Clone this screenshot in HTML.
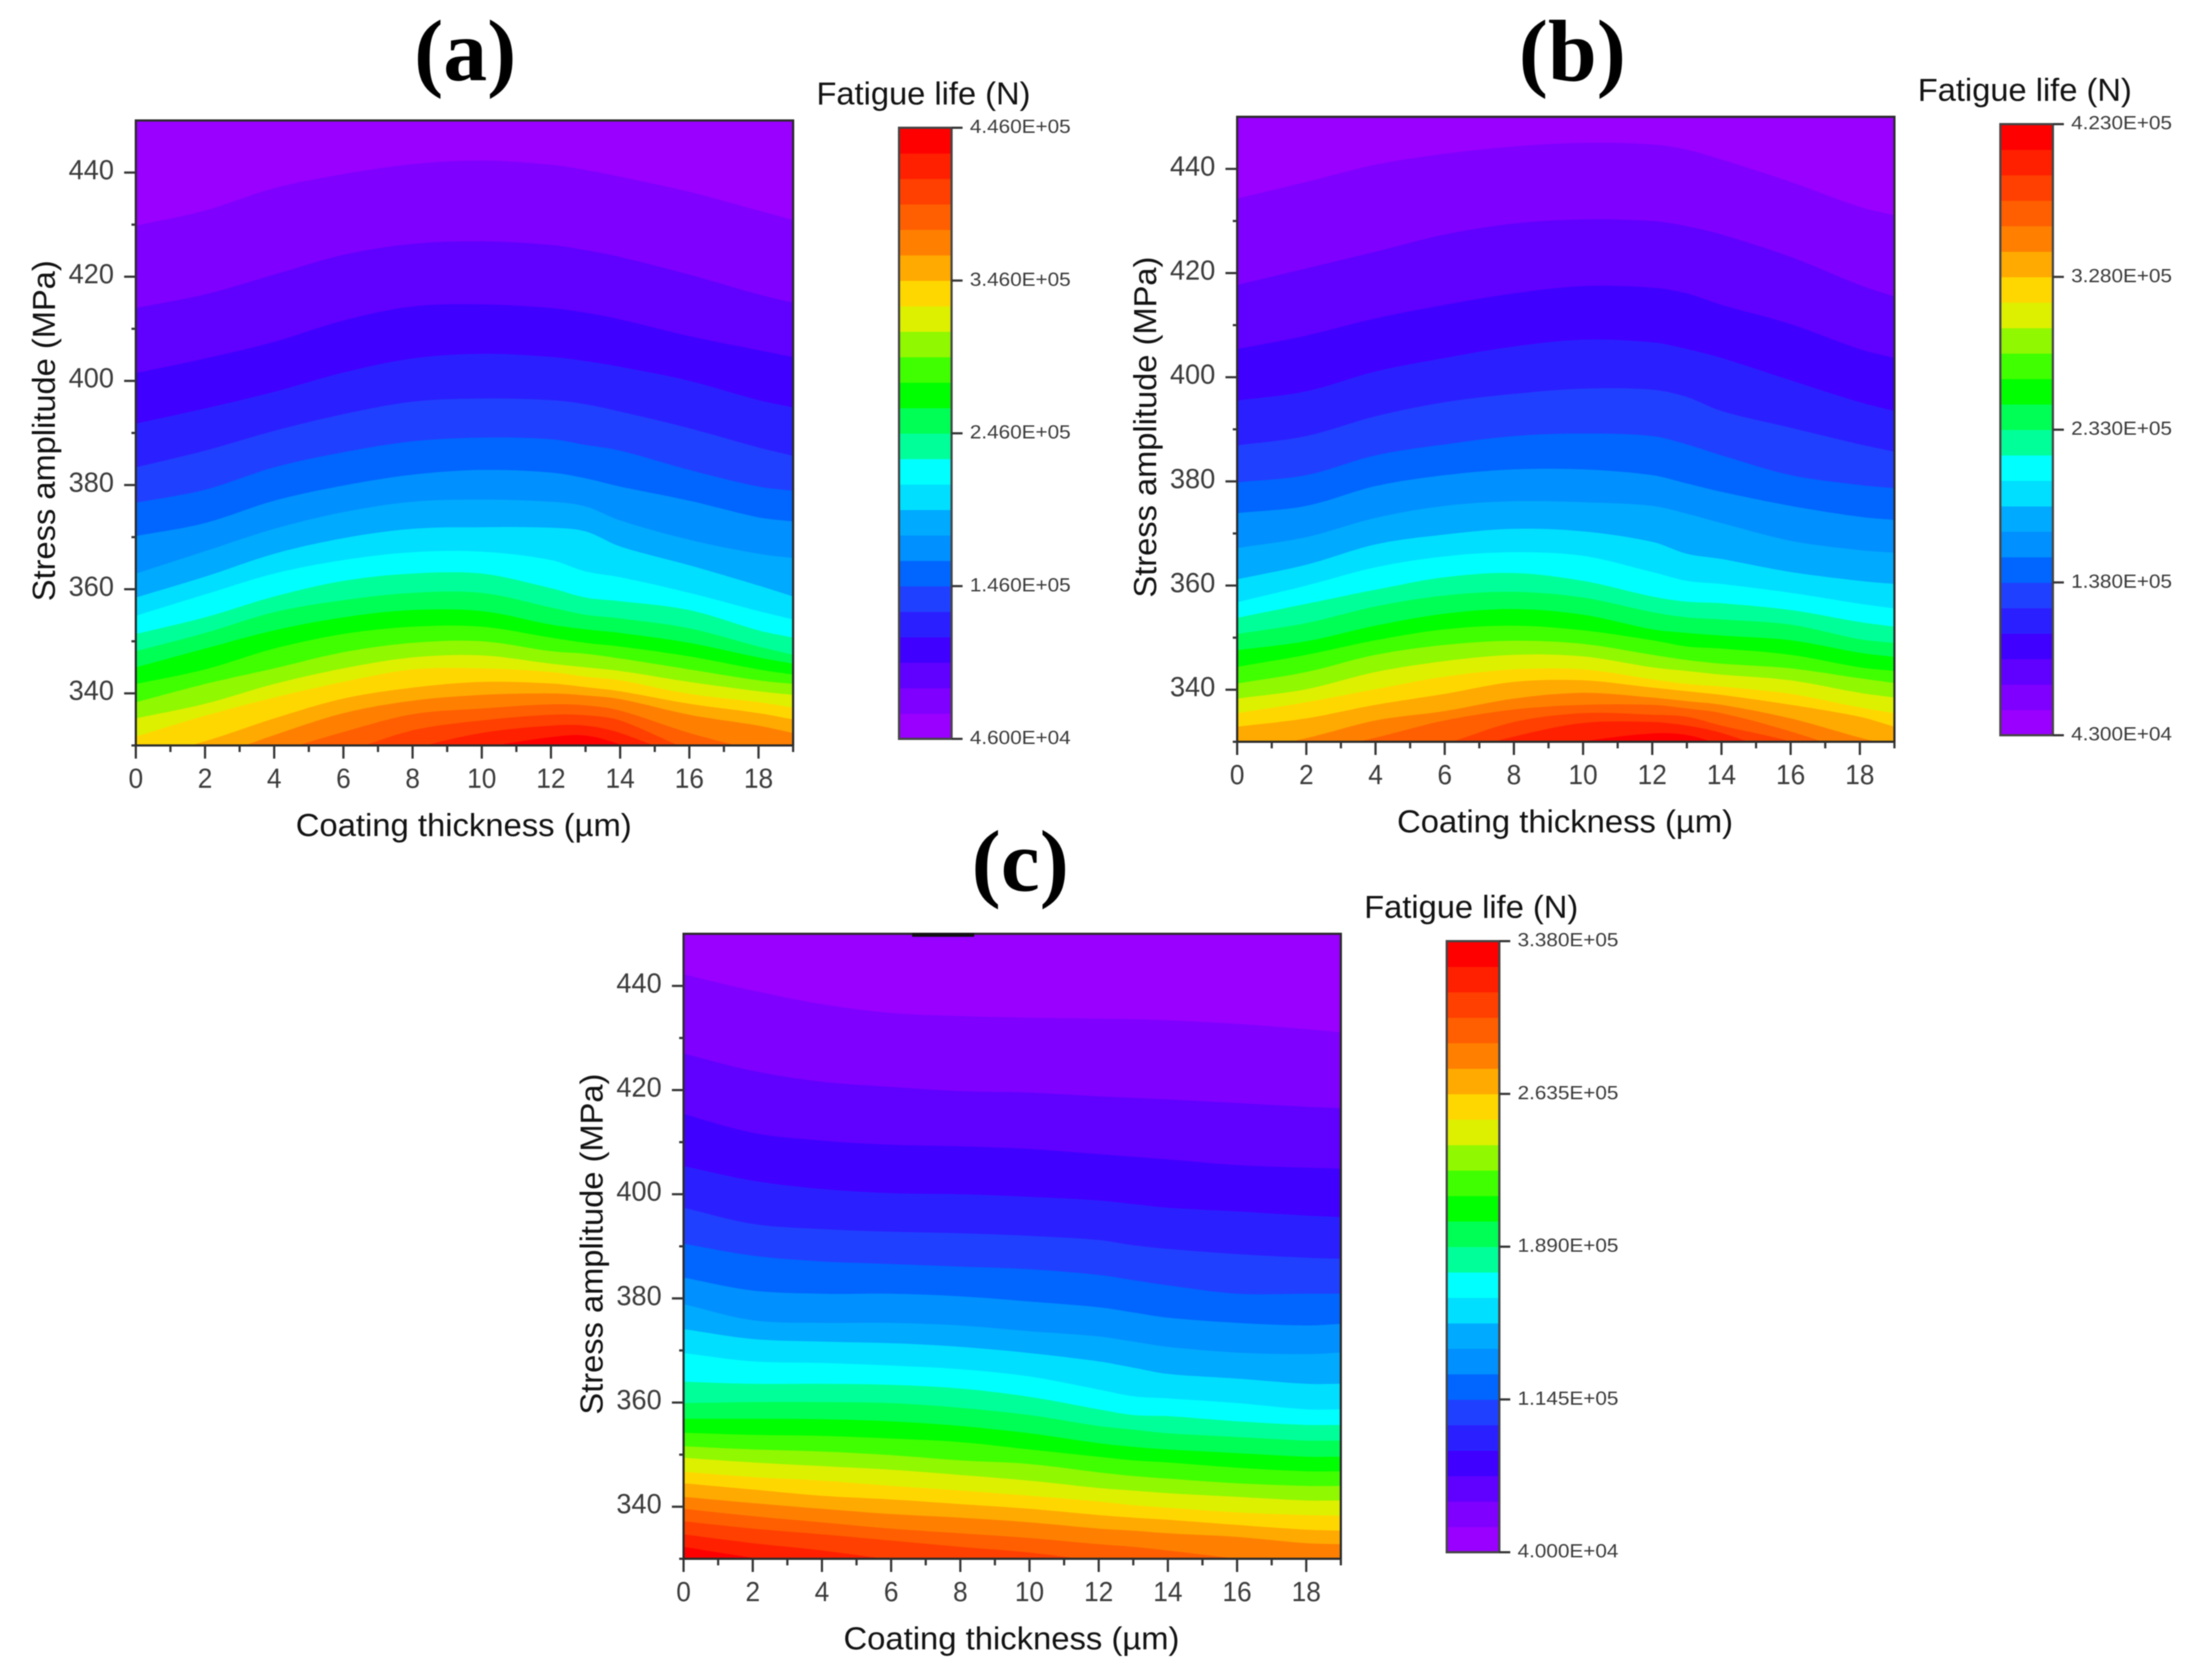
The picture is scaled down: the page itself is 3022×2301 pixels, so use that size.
<!DOCTYPE html>
<html lang="en">
<head>
<meta charset="utf-8">
<title>Fatigue life contour maps</title>
<style>
html,body{margin:0;padding:0;background:#fff;width:3022px;height:2301px;overflow:hidden;}
svg{display:block;font-family:"Liberation Sans",Arial,sans-serif;filter:blur(0.7px);}
.panel-title{font-family:"Liberation Serif",serif;font-weight:bold;font-size:120px;text-anchor:middle;fill:#000;}
.axis-title{font-size:44px;fill:#111;text-anchor:middle;}
.legend-title{font-size:44px;fill:#111;}
.tick-label{font-size:38px;fill:#3a3a3a;}
.legend-label{font-size:26px;fill:#3a3a3a;}
</style>
</head>
<body>
<svg id="figure" xmlns="http://www.w3.org/2000/svg" width="3022" height="2301" viewBox="0 0 3022 2301">
  <rect x="0" y="0" width="3022" height="2301" fill="#fff"/>

  <g id="panel-a" transform="translate(186,165)">
    <g class="marks"></g>
    <text class="panel-title" x="451" y="-55">(a)</text>
    <text class="axis-title" x="449" y="980" textLength="460" lengthAdjust="spacingAndGlyphs">Coating thickness (µm)</text>
    <text class="axis-title" transform="translate(-111,425) rotate(-90)" textLength="467" lengthAdjust="spacingAndGlyphs">Stress amplitude (MPa)</text>
    <text class="legend-title" x="932" y="-22" textLength="293" lengthAdjust="spacingAndGlyphs">Fatigue life (N)</text>
  </g>

  <g id="panel-b" transform="translate(1694,160)">
    <g class="marks"></g>
    <text class="panel-title" x="459" y="-50">(b)</text>
    <text class="axis-title" x="449" y="980" textLength="460" lengthAdjust="spacingAndGlyphs">Coating thickness (µm)</text>
    <text class="axis-title" transform="translate(-111,425) rotate(-90)" textLength="467" lengthAdjust="spacingAndGlyphs">Stress amplitude (MPa)</text>
    <text class="legend-title" x="932" y="-22" textLength="293" lengthAdjust="spacingAndGlyphs">Fatigue life (N)</text>
  </g>

  <g id="panel-c" transform="translate(936,1279)">
    <g class="marks"></g>
    <text class="panel-title" x="461" y="-59">(c)</text>
    <text class="axis-title" x="449" y="980" textLength="460" lengthAdjust="spacingAndGlyphs">Coating thickness (µm)</text>
    <text class="axis-title" transform="translate(-111,425) rotate(-90)" textLength="467" lengthAdjust="spacingAndGlyphs">Stress amplitude (MPa)</text>
    <text class="legend-title" x="932" y="-22" textLength="293" lengthAdjust="spacingAndGlyphs">Fatigue life (N)</text>
    <rect x="313" y="-1" width="85" height="5" fill="#111"/>
  </g>
</svg>

<script>
// Shared axis data
const thicknessColumns = [0,2,4,6,8,10,12,13,14,16,18,19];
const xTickValues = [0,2,4,6,8,10,12,14,16,18];
const xMinorTickValues = [1,3,5,7,9,11,13,15,17,19];
const xTickLabels = ['0','2','4','6','8','10','12','14','16','18'];
const yTickValues = [340,360,380,400,420,440];
const yMinorTickValues = [330,350,370,390,410,430];
const yTickLabels = ['340','360','380','400','420','440'];
const bandPalette = ['#9900ff','#7f00ff','#6000ff','#4000ff','#2a20ff','#2040ff','#0066ff','#0090ff','#00aaff','#00dfff','#00ffff','#00ff99','#00ff55','#00ff00','#40ff00','#90f800','#ddf000','#ffd700','#ffaa00','#ff8000','#ff5f00','#ff4000','#ff2000','#ff0000'];

// Contour boundaries: stress amplitude (MPa) of each level at each thickness column, low life to high life
const boundariesA = [
[429.8,432.7,437.0,439.7,441.6,442.3,441.5,440.5,439.2,436.3,432.7,430.9],
[414.0,416.6,420.4,424.2,426.3,426.8,426.1,425.1,423.8,420.4,416.6,415.0],
[401.5,404.3,407.5,411.6,414.3,414.7,414.0,413.1,411.8,408.6,405.9,404.6],
[391.8,394.7,397.9,401.6,404.3,405.2,404.6,403.8,402.7,400.0,396.3,394.9],
[383.4,386.6,390.4,393.6,396.0,396.6,396.3,395.5,394.1,390.9,387.2,385.6],
[376.6,379.1,383.4,386.3,388.4,389.1,388.8,387.7,386.6,382.9,379.7,378.9],
[370.2,372.7,377.0,379.9,382.0,382.9,382.4,381.3,379.7,377.0,373.8,373.0],
[363.0,367.3,371.6,374.8,376.8,377.2,376.8,375.9,373.2,369.5,366.8,366.0],
[358.4,362.4,366.8,369.8,371.6,371.9,371.8,371.1,368.2,364.6,360.7,358.6],
[354.9,359.0,363.0,365.6,367.1,367.2,365.6,363.4,362.3,359.3,355.8,354.2],
[351.4,354.6,358.6,361.6,363.0,363.0,360.2,358.4,357.7,356.0,352.1,350.7],
[348.1,351.6,355.6,357.9,359.3,359.3,356.5,355.1,354.4,352.5,349.0,347.4],
[345.0,348.6,352.1,354.6,356.0,355.8,353.2,352.3,351.6,349.7,346.9,345.7],
[341.8,344.6,348.6,351.4,352.8,352.8,350.7,349.7,349.0,347.1,344.6,343.6],
[338.3,341.8,344.8,347.9,349.7,350.0,348.1,347.6,346.7,344.6,342.5,341.8],
[335.2,338.0,341.8,344.8,346.9,347.3,345.7,345.0,344.3,342.2,340.4,339.7],
[331.7,335.7,339.2,342.2,344.6,344.8,344.1,343.2,342.5,339.9,338.3,337.3],
[327.3,330.8,335.2,339.0,341.1,342.2,341.9,341.2,340.4,338.0,336.2,335.0],
[323.6,327.3,332.0,336.2,338.6,339.7,340.0,339.6,338.9,335.9,333.8,332.4],
[320.7,324.5,328.6,332.6,336.0,337.1,337.9,337.7,336.7,332.4,328.9,327.1],
[318.4,321.7,325.4,328.7,332.9,334.8,335.9,335.8,334.8,329.2,325.4,323.6],
[316.1,319.3,322.6,325.9,329.4,332.4,333.8,333.8,332.4,327.3,323.1,320.7],
[313.7,317.0,320.3,323.6,326.8,329.5,331.6,331.9,330.2,325.4,320.7,318.4]
];
const boundariesB = [
[434.3,437.5,440.8,442.9,444.3,445.0,444.7,443.7,441.8,437.5,432.7,431.1],
[417.7,420.9,424.1,427.4,429.5,430.3,430.0,429.0,427.4,423.1,417.7,415.5],
[405.4,408.0,411.3,413.9,416.1,417.5,417.2,416.1,413.9,410.2,405.4,403.7],
[395.5,397.3,401.1,403.7,405.9,407.2,406.7,405.4,403.7,399.4,395.2,393.5],
[386.9,388.7,392.5,395.2,396.8,397.8,397.6,396.2,393.5,390.3,387.1,385.7],
[379.8,381.2,385.0,387.1,388.7,389.2,388.7,387.1,385.0,381.2,379.3,378.7],
[373.9,375.3,379.1,381.2,382.3,382.3,381.2,379.6,378.0,375.3,373.2,372.6],
[367.2,369.3,373.0,375.3,376.2,376.0,375.3,373.8,372.0,368.6,366.8,366.3],
[361.2,364.0,367.9,369.8,370.9,370.4,368.4,366.1,365.1,362.6,360.9,360.3],
[356.8,360.0,363.5,365.6,366.4,365.7,362.6,360.9,360.3,358.6,356.5,355.6],
[353.8,356.5,359.2,361.6,362.4,360.9,357.9,356.9,356.6,355.3,353.0,352.1],
[350.7,352.8,356.0,358.1,358.8,357.7,354.9,353.9,353.5,352.5,349.7,349.0],
[347.6,349.3,352.3,354.6,355.5,354.4,351.6,350.9,350.4,349.5,347.1,346.3],
[344.4,346.7,349.5,351.6,352.3,351.4,349.5,348.3,347.9,346.7,344.3,343.6],
[341.2,343.4,346.7,348.6,349.4,348.8,346.7,345.7,345.0,344.1,342.2,341.3],
[338.3,340.1,343.4,345.5,346.7,346.4,344.3,343.6,342.9,341.8,339.4,338.5],
[335.5,337.6,340.1,342.5,343.9,343.9,342.0,341.1,340.6,339.2,336.6,335.5],
[332.9,334.5,337.1,339.2,341.5,341.8,340.4,339.7,339.0,337.1,334.8,332.9],
[328.1,330.7,334.1,335.9,338.3,339.4,338.5,337.8,337.1,334.5,330.8,329.2],
[324.7,327.8,330.8,334.1,336.2,337.1,337.1,336.4,335.5,332.0,327.5,325.2],
[319.1,322.4,326.4,329.6,333.8,335.5,335.2,334.8,333.1,330.0,325.2,322.9],
[316.8,320.0,323.3,327.3,331.0,333.6,333.8,333.1,331.7,327.1,322.4,320.0],
[314.4,317.7,321.0,324.7,328.0,330.1,331.6,331.3,329.4,324.7,320.0,317.7]
];
const boundariesC = [
[442.2,439.1,436.5,434.8,434.2,433.9,433.7,433.6,433.4,432.7,431.7,431.1],
[427.0,423.7,421.6,420.6,419.8,419.5,418.8,418.5,418.2,417.5,416.8,416.5],
[415.4,411.8,410.3,409.5,409.2,408.7,407.7,407.2,406.7,405.6,405.1,404.9],
[405.4,402.6,401.0,400.2,400.0,399.5,398.8,398.1,397.4,396.7,395.9,395.6],
[397.4,394.3,393.3,392.8,392.5,392.0,391.2,390.2,389.5,388.5,387.8,387.6],
[390.5,388.2,387.1,386.6,386.1,385.6,384.5,383.5,382.5,380.9,380.9,380.9],
[384.0,381.5,380.9,380.9,380.4,379.4,378.3,377.3,376.3,375.3,374.8,375.1],
[378.9,375.8,375.3,375.3,374.8,373.7,372.7,371.7,370.7,369.6,369.3,369.6],
[374.1,372.2,371.7,371.4,370.7,369.5,367.9,366.7,365.5,364.6,363.6,363.6],
[369.5,367.9,367.6,367.1,366.4,365.0,362.5,361.2,360.8,359.9,358.7,358.7],
[364.0,363.6,363.6,363.4,362.7,361.1,358.7,357.6,357.4,356.4,355.7,355.7],
[359.9,360.1,360.1,359.9,359.0,357.6,355.5,354.8,354.1,353.4,352.7,352.7],
[356.9,356.9,356.8,356.4,355.5,354.1,352.2,351.5,351.0,350.3,349.6,349.6],
[354.2,353.8,353.6,353.1,352.4,351.0,349.6,348.9,348.5,347.5,346.8,346.8],
[351.6,351.0,350.6,349.9,348.9,348.2,346.6,345.9,345.4,344.5,344.0,344.0],
[349.4,348.5,347.8,347.1,346.1,345.0,343.6,343.1,342.6,341.9,341.2,341.2],
[346.7,345.7,345.0,344.0,343.1,342.1,341.0,340.3,339.8,338.9,338.4,338.3],
[344.5,343.3,342.1,341.4,340.5,339.6,338.4,337.9,337.5,336.5,335.6,335.4],
[341.9,340.7,339.6,338.6,337.9,337.0,335.8,335.4,334.9,334.2,333.0,332.8],
[339.6,338.2,337.0,335.8,334.9,334.0,332.8,332.3,331.6,330.0,328.4,327.9],
[337.2,335.8,334.7,333.5,332.3,331.2,329.5,328.6,327.7,325.3,323.0,321.8],
[334.7,333.0,331.6,329.8,327.9,326.0,324.2,323.2,322.3,320.4,318.6,317.6],
[332.3,330.2,328.4,326.5,324.6,322.8,320.9,320.0,319.0,317.1,315.3,314.3]
];

// Colour-scale tick values and printed labels
const legendValuesA = [46000,146000,246000,346000,446000];
const legendLabelsA = ['4.600E+04','1.460E+05','2.460E+05','3.460E+05','4.460E+05'];
const legendValuesB = [43000,138000,233000,328000,423000];
const legendLabelsB = ['4.300E+04','1.380E+05','2.330E+05','3.280E+05','4.230E+05'];
const legendValuesC = [40000,114500,189000,263500,338000];
const legendLabelsC = ['4.000E+04','1.145E+05','1.890E+05','2.635E+05','3.380E+05'];

const SVG_NS = 'http://www.w3.org/2000/svg';
const plotWidth = 900, plotHeight = 856;
const xScale = v => (v - 0) / 19 * plotWidth;
const yScale = v => (450 - v) / 120 * plotHeight;

function make(tag, attrs, parent, text) {
  const el = document.createElementNS(SVG_NS, tag);
  for (const k in attrs) el.setAttribute(k, attrs[k]);
  if (text !== undefined) el.textContent = text;
  parent.appendChild(el);
  return el;
}

// Hermite curve through the boundary, sampled and held inside the plot so the fill never leaves it
function curveThrough(xs, ys) {
  const pts = xs.map((x, i) => [xScale(x), yScale(ys[i])]);
  const slope = i => {
    const a = pts[Math.max(i - 1, 0)], b = pts[Math.min(i + 1, pts.length - 1)];
    return (b[1] - a[1]) / (b[0] - a[0]);
  };
  let d = 'M0 ' + Math.min(pts[0][1], plotHeight).toFixed(1);
  for (let i = 0; i < pts.length - 1; i++) {
    const h = pts[i + 1][0] - pts[i][0];
    const m0 = slope(i) * h, m1 = slope(i + 1) * h;
    for (let s = 1; s <= 10; s++) {
      const t = s / 10, t2 = t * t, t3 = t2 * t;
      const y = (2*t3 - 3*t2 + 1) * pts[i][1] + (t3 - 2*t2 + t) * m0 + (-2*t3 + 3*t2) * pts[i + 1][1] + (t3 - t2) * m1;
      d += 'L' + (pts[i][0] + t * h).toFixed(1) + ' ' + Math.min(y, plotHeight).toFixed(1);
    }
  }
  return d;
}

function drawPanel(id, boundaries, legendValues, legendLabels) {
  const root = document.querySelector('#panel-' + id + ' .marks');

  const field = make('g', {}, root);
  
  
  const base = make('rect', { x: 0, y: 0, width: plotWidth, height: plotHeight, fill: bandPalette[0] }, field);
  
  
  boundaries.forEach((row, k) => {
    const d = curveThrough(thicknessColumns, row) + 'V' + plotHeight + 'H0Z';
    const band = make('path', { d: d, fill: bandPalette[k + 1] }, field);
    
    
  });

  // Frame
  const frame = make('path', { d: 'M0 0H' + plotWidth + 'V' + plotHeight + 'H0Z', fill: 'none', stroke: '#2a2a2a', 'stroke-width': 3 }, root);
  
  

  // X axis
  xTickValues.forEach((v, i) => {
    const x = xScale(v);
    const tick = make('line', { x1: x, x2: x, y1: plotHeight, y2: plotHeight + 18, stroke: '#333', 'stroke-width': 3 }, root);
    
    
    const label = make('text', { class: 'tick-label', x: x, y: plotHeight + 58, 'text-anchor': 'middle', textLength: xTickLabels[i].length * 20, lengthAdjust: 'spacingAndGlyphs' }, root, xTickLabels[i]);
    
    
  });
  xMinorTickValues.forEach(v => {
    const x = xScale(v);
    const tick = make('line', { x1: x, x2: x, y1: plotHeight, y2: plotHeight + 9, stroke: '#333', 'stroke-width': 3 }, root);
    
    
  });

  // Y axis
  yTickValues.forEach((v, i) => {
    const y = yScale(v);
    const tick = make('line', { x1: -16, x2: 0, y1: y, y2: y, stroke: '#333', 'stroke-width': 3 }, root);
    
    
    const label = make('text', { class: 'tick-label', x: -92, y: y + 9, textLength: 62, lengthAdjust: 'spacingAndGlyphs' }, root, yTickLabels[i]);
    
    
  });
  yMinorTickValues.forEach(v => {
    const y = yScale(v);
    const tick = make('line', { x1: -6, x2: 0, y1: y, y2: y, stroke: '#333', 'stroke-width': 3 }, root);
    
    
  });

  // Colour bar
  const barX = 1045, barY = 10, barW = 72, barH = 837;
  const lo = legendValues[0], hi = legendValues[legendValues.length - 1];
  const legendScale = v => barY + barH - (v - lo) / (hi - lo) * barH;
  const step = (hi - lo) / bandPalette.length;
  bandPalette.forEach((color, i) => {
    const top = legendScale(lo + (i + 1) * step);
    const bottom = legendScale(lo + i * step);
    const swatch = make('rect', { x: barX, y: top, width: barW, height: bottom - top + 0.5, fill: color }, root);
    
    
  });
  const border = make('rect', { x: barX, y: barY, width: barW, height: barH, fill: 'none', stroke: '#444', 'stroke-width': 3 }, root);
  
  
  legendValues.forEach((v, i) => {
    const y = legendScale(v);
    const tick = make('line', { x1: barX + barW, x2: barX + barW + 15, y1: y, y2: y, stroke: '#333', 'stroke-width': 3 }, root);
    
    
    const label = make('text', { class: 'legend-label', x: barX + barW + 25, y: y + 7, textLength: 138, lengthAdjust: 'spacingAndGlyphs' }, root, legendLabels[i]);
    
    
  });
}

drawPanel('a', boundariesA, legendValuesA, legendLabelsA);
drawPanel('b', boundariesB, legendValuesB, legendLabelsB);
drawPanel('c', boundariesC, legendValuesC, legendLabelsC);
</script>
</body>
</html>
